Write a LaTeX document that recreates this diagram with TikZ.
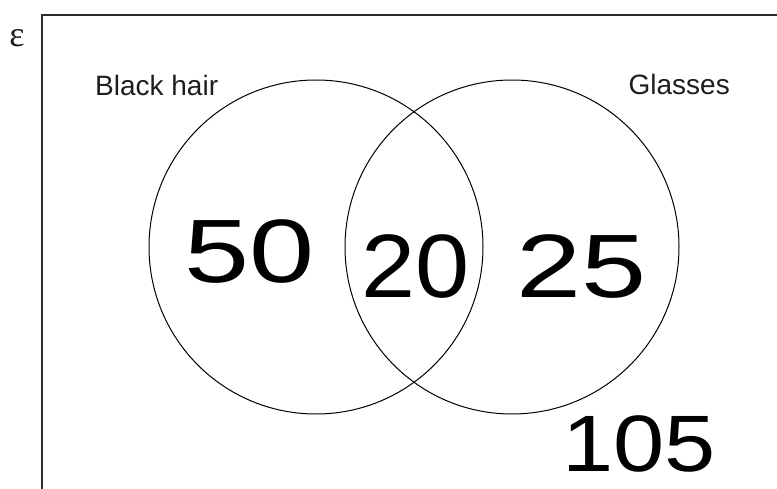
\documentclass[tikz,border=0pt]{standalone}
\usepackage{fontspec}
\setmainfont{Liberation Sans}
\newfontfamily\serifgreek{Liberation Serif}
\usetikzlibrary{positioning}
\definecolor{framegray}{RGB}{45,45,45}
\definecolor{labelgray}{RGB}{30,30,30}
\tikzset{
 frame/.style={
 draw=framegray,
 line width=1.6pt
 },
 venn/.style={
 draw=black,
 line width=1pt
 },
 setlabel/.style={
 inner sep=0pt,
 text=labelgray,
 font=\fontsize{28}{30}\selectfont
 },
 tally/.style={
 inner sep=0pt,
 font=\fontsize{90}{94}\selectfont
 }
}

\begin{document}
\begin{tikzpicture}[x=1pt,y=-1pt]
	\useasboundingbox (0,0) rectangle (777,489);
	\draw[frame] (42,489) -- (42,15) -- (777,15);
	\node[inner sep=0pt, text=labelgray, font=\serifgreek\fontsize{36}{40}\selectfont] (univ) at (17,38) {ε};
  
	\draw[venn] (316,247) circle (167pt);
	\draw[venn] (512,247) circle (167pt);
  
	\node[setlabel, anchor=base west] (black) at (95,96) {Black hair};
	\node[setlabel, anchor=base east] (glasses) at (730,95) {Glasses};
  
	\node[tally, xscale=1.3] (only black) at (250,252) {50};
	\node[tally, xscale=1.08] (both) at (416,267) {20};
	\node[tally, xscale=1.3] (only glasses) at (582,267) {25};
	\node[tally, anchor=base, xscale=1.15, font=\fontsize{80}{84}\selectfont] (neither) at (639,471) {105};
\end{tikzpicture}
\end{document}
